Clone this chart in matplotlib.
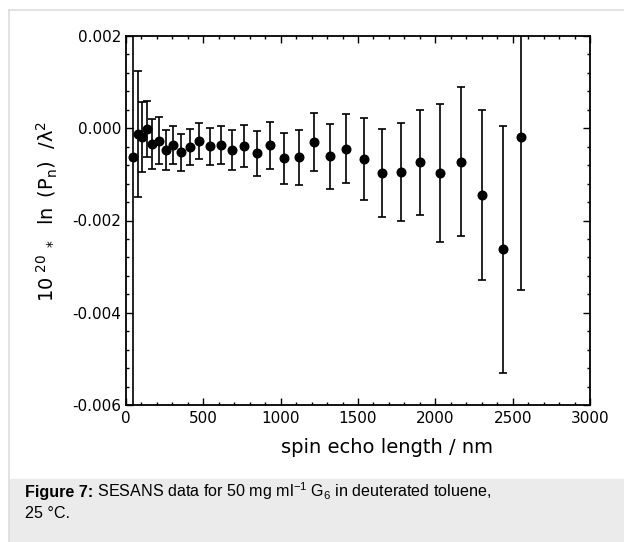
import numpy as np
import matplotlib
matplotlib.use("Agg")
import matplotlib.pyplot as plt
from matplotlib.patches import Rectangle
from matplotlib.lines import Line2D
from matplotlib.ticker import MultipleLocator, FuncFormatter

plt.rcParams['font.family'] = ['DejaVu Sans']
plt.rcParams['mathtext.default'] = 'regular'
plt.rcParams['axes.unicode_minus'] = False

# spin echo length (nm)
spin_echo = [48, 76, 105, 136, 170, 213, 259, 306, 356, 414, 474, 543, 612, 685,
             763, 845, 931, 1024, 1116, 1218, 1321, 1422, 1539, 1655, 1776, 1901,
             2030, 2164, 2302, 2440, 2552]
# 10^20 * ln(Pn)/lambda^2, in units of 1e-3
signal_milli = [-0.63, -0.125, -0.19, -0.025, -0.345, -0.27, -0.465, -0.37, -0.52,
                -0.405, -0.27, -0.39, -0.36, -0.47, -0.38, -0.54, -0.37, -0.65,
                -0.625, -0.29, -0.605, -0.44, -0.665, -0.97, -0.945, -0.74, -0.965,
                -0.725, -1.45, -2.625, -0.2]
error_milli = [6.0, 1.375, 0.76, 0.605, 0.545, 0.51, 0.435, 0.41, 0.40, 0.395, 0.39,
               0.40, 0.415, 0.43, 0.46, 0.49, 0.51, 0.55, 0.595, 0.63, 0.705, 0.75,
               0.895, 0.95, 1.055, 1.14, 1.495, 1.615, 1.85, 2.675, 3.3]

x_ticks = [0, 500, 1000, 1500, 2000, 2500, 3000]
y_ticks = [-0.006, -0.004, -0.002, 0.0, 0.002]

y = np.array(signal_milli) * 1e-3
yerr = np.array(error_milli) * 1e-3

W, H = 624, 542
fig = plt.figure(figsize=(W / 100, H / 100), dpi=100)

# page frame and caption band
fig.patches.append(Rectangle((9 / W, 0), 1 - 9 / W, (H - 479) / H,
                             transform=fig.transFigure, color='#ebebeb', zorder=0))
fig.lines.append(Line2D([9 / W, 1], [1 - 10 / H, 1 - 10 / H], transform=fig.transFigure,
                        color='#dddddd', lw=1.2))
fig.lines.append(Line2D([9 / W, 9 / W], [0, 1 - 10 / H], transform=fig.transFigure,
                        color='#dddddd', lw=1.2))

ax = fig.add_axes([126 / W, 1 - 405 / H, (590 - 126) / W, (405 - 36) / H])
ax.errorbar(spin_echo, y, yerr=yerr, fmt='o', color='black', ms=6.2,
            elinewidth=1.2, capsize=3, capthick=1.2)

ax.set_xlim(0, 3000)
ax.set_ylim(-0.006, 0.002)
ax.set_xticks(x_ticks)
ax.set_yticks(y_ticks)
ax.xaxis.set_minor_locator(MultipleLocator(100))
ax.yaxis.set_minor_locator(MultipleLocator(0.0004))
ax.xaxis.set_major_formatter(FuncFormatter(lambda v, p: f'{int(round(v))}'))
ax.yaxis.set_major_formatter(FuncFormatter(lambda v, p: f'{0.0 if abs(v) < 1e-12 else v:.3f}'))
ax.tick_params(which='both', direction='in', top=True, right=True, labelsize=11)
ax.tick_params(which='major', length=5, width=1)
ax.tick_params(which='minor', length=2.5, width=1)
ax.tick_params(axis='x', pad=4)
ax.tick_params(axis='y', pad=3.5)
for s in ax.spines.values():
    s.set_linewidth(1.3)

ax.set_xlabel('spin echo length / nm', fontsize=14)
ax.xaxis.label.set_va('center')
ax.xaxis.set_label_coords(0.5625, -0.114)
ax.set_ylabel(r'$10^{\ 20}{}_{\ *}\ \ \ln\ (P_n)\ \ /\lambda^2$', fontsize=14)
ax.yaxis.label.set_va('center')
ax.yaxis.set_label_coords(-0.170, 0.526)

# caption with bold lead-in
renderer = fig.canvas.get_renderer()
t1 = fig.text(25 / W, 1 - 497.5 / H, 'Figure 7:', fontsize=11.6, fontweight='bold',
              family='Liberation Sans', va='baseline')
w1 = t1.get_window_extent(renderer).width
fig.text((25 + w1) / W, 1 - 497.5 / H,
         ' SESANS data for 50 mg ml$^{-1}$ G$_6$ in deuterated toluene,',
         fontsize=11.6, family='Liberation Sans', va='baseline')
fig.text(25 / W, 1 - 518 / H, '25 °C.', fontsize=11.6, family='Liberation Sans',
         va='baseline')

fig.savefig('out.png', dpi=100)
